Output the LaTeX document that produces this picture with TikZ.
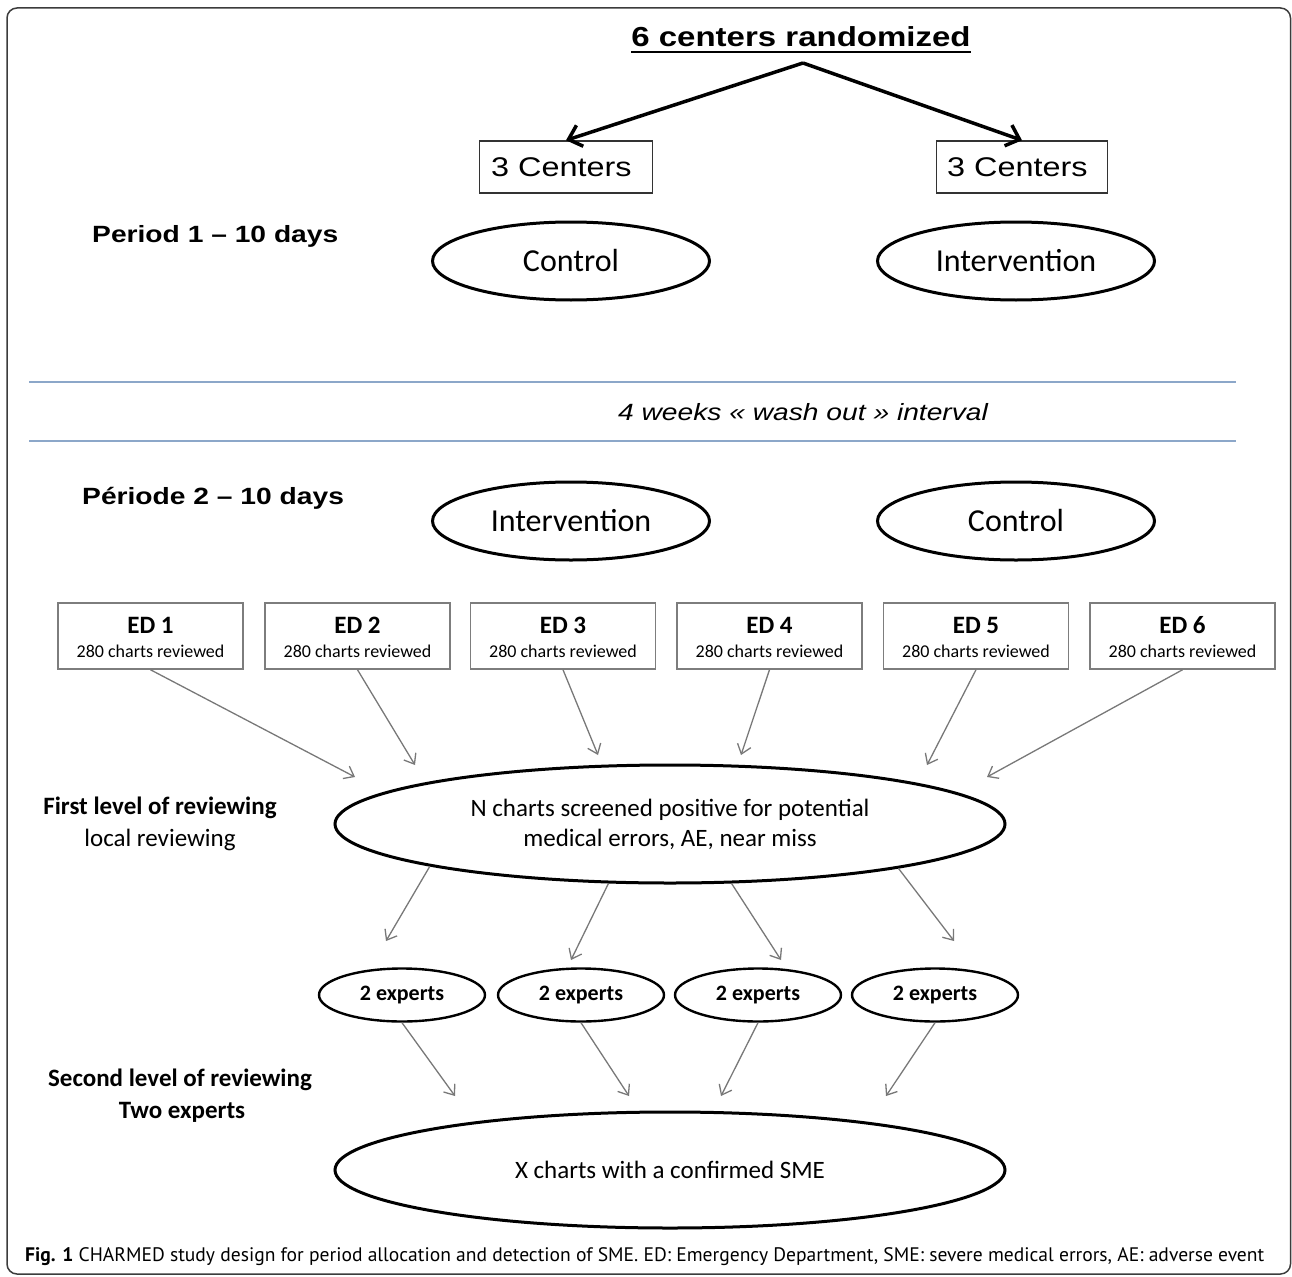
\documentclass[tikz,border=0pt]{standalone}
\usepackage{fontspec}
\usepackage{graphicx}
\setmainfont{Carlito}
\newfontfamily\arialw[FakeStretch=1.2]{Liberation Sans}
\newfontfamily\capfont{PT Sans}
\usetikzlibrary{shapes.geometric,arrows.meta}
\definecolor{blueline}{RGB}{140,167,201}
\definecolor{arrowgray}{RGB}{120,120,120}
\definecolor{boxgray}{RGB}{125,125,125}
\definecolor{framecol}{RGB}{60,60,60}
\tikzset{
  centerbox/.style={draw=black!80, line width=1.4pt, minimum height=52pt, inner sep=0pt},
  centertext/.style={inner sep=0pt, anchor=west, font=\arialw\fontsize{27}{30}\selectfont},
  bigoval/.style={ellipse, draw=black, line width=3pt, inner sep=0pt,
    minimum width=277pt, minimum height=78pt, font=\fontsize{32}{36}\selectfont},
  periodlab/.style={anchor=west, inner sep=0pt, font=\arialw\bfseries\fontsize{23.5}{28}\selectfont},
  edbox/.style={draw=boxgray, line width=1.5pt, minimum width=185pt, minimum height=66pt,
    inner sep=0pt},
  edtitle/.style={inner sep=0pt, font=\bfseries\fontsize{25}{28}\selectfont},
  edsub/.style={inner sep=0pt, font=\fontsize{18}{20}\selectfont},
  bigarrow/.style={draw=black, line width=3.5pt, -{Straight Barb[length=12pt,width=22pt]}},
  garrow/.style={draw=arrowgray, line width=1.3pt, -{Straight Barb[length=9pt,width=14pt]}},
  hugeoval/.style={ellipse, draw=black, line width=3pt, inner sep=0pt,
    minimum width=670pt, minimum height=118pt, align=center,
    font=\fontsize{25}{30}\selectfont},
  expoval/.style={ellipse, draw=black, line width=2.4pt, inner sep=0pt,
    minimum width=166pt, minimum height=53pt, font=\bfseries\fontsize{22}{25}\selectfont},
  sidelab/.style={inner sep=0pt, font=\fontsize{25}{30}\selectfont},
}
\begin{document}
\begin{tikzpicture}[x=1pt,y=-1pt]
\useasboundingbox (0,0) rectangle (1292,1276);
\draw[framecol, line width=1.5pt, rounded corners=10pt] (7,8) rectangle (1290.5,1274);

% title
\node[anchor=base, inner sep=0pt, font=\arialw\bfseries\fontsize{27.5}{32}\selectfont] (title) at (801,47) {6 centers randomized};
\draw[line width=2.5pt] ([yshift=-5pt]title.base west) -- ([yshift=-5pt]title.base east);
\coordinate (apex) at (803,63);

\node[centerbox, minimum width=173pt] (c1) at (566,167) {};
\node[centertext] (c1t) at (491,167) {3 Centers};
\node[centerbox, minimum width=171pt] (c2) at (1022,167) {};
\node[centertext] (c2t) at (947,167) {3 Centers};
\draw[bigarrow] (apex) -- (c1.north);
\draw[bigarrow] (apex) -- (c2.north);

\node[periodlab] (p1) at (92,236) {Period 1 – 10 days};
\node[bigoval] (ctl1) at (571,261) {Control};
\node[bigoval] (int1) at (1016,261) {Intervention};

% wash out
\draw[blueline, line width=2pt] (29,382) -- (1236,382);
\draw[blueline, line width=2pt] (29,441) -- (1236,441);
\node[inner sep=0pt, font=\arialw\itshape\fontsize{23.5}{28}\selectfont] (wash) at (803,412) {4 weeks « wash out » interval};

\node[periodlab] (p2) at (82,498) {Période 2 – 10 days};
\node[bigoval] (int2) at (571,521) {Intervention};
\node[bigoval] (ctl2) at (1016,521) {Control};

% ED boxes
\foreach \i/\x in {1/150.5,2/357.5,3/563,4/769.5,5/976,6/1182.5}{
  \node[edbox] (ed\i) at (\x,636) {};
  \node[edtitle] (edt\i) at (\x,625) {ED \i};
  \node[edsub] (eds\i) at (\x,651) {280 charts reviewed};
}

\node[hugeoval] (nch) at (670,824) {N charts screened positive for potential\\medical errors, AE, near miss};

\coordinate (e1) at (355,777);
\coordinate (e2) at (415,765);
\coordinate (e3) at (598,755);
\coordinate (e4) at (741,755);
\coordinate (e5) at (927,765);
\coordinate (e6) at (987,777);
\foreach \i in {1,...,6}{ \draw[garrow] (ed\i.south) -- (e\i); }

\node[sidelab, font=\bfseries\fontsize{25}{30}\selectfont] (fl1) at (160,808) {First level of reviewing};
\node[sidelab] (fl2) at (160,840) {local reviewing};

% experts
\node[expoval] (x1) at (402,995) {2 experts};
\node[expoval] (x2) at (581,995) {2 experts};
\node[expoval] (x3) at (758,995) {2 experts};
\node[expoval] (x4) at (935,995) {2 experts};

\coordinate (t1) at (386,941);
\coordinate (t2) at (571,960);
\coordinate (t3) at (781,960);
\coordinate (t4) at (954,941);
\draw[garrow] (nch.190.5) -- (t1);
\draw[garrow] (nch.224) -- (t2);
\draw[garrow] (nch.316.4) -- (t3);
\draw[garrow] (nch.349.6) -- (t4);

\node[hugeoval, minimum height=116pt] (xch) at (670,1170) {X charts with a confirmed SME};

\coordinate (b1) at (455,1096);
\coordinate (b2) at (629,1096);
\coordinate (b3) at (721,1096);
\coordinate (b4) at (886,1096);
\foreach \i in {1,...,4}{ \draw[garrow] (x\i.south) -- (b\i); }

\node[sidelab, font=\bfseries\fontsize{25}{30}\selectfont] (sl1) at (180,1080) {Second level of reviewing};
\node[sidelab, font=\bfseries\fontsize{25}{30}\selectfont] (sl2) at (182,1112) {Two experts};

% caption
\node[anchor=west, inner sep=0pt] (cap) at (25,1257) {\resizebox{1239pt}{!}{\capfont\fontsize{18}{22}\selectfont\textbf{Fig. 1} CHARMED study design for period allocation and detection of SME. ED: Emergency Department, SME: severe medical errors, AE: adverse event}};
\end{tikzpicture}
\end{document}
